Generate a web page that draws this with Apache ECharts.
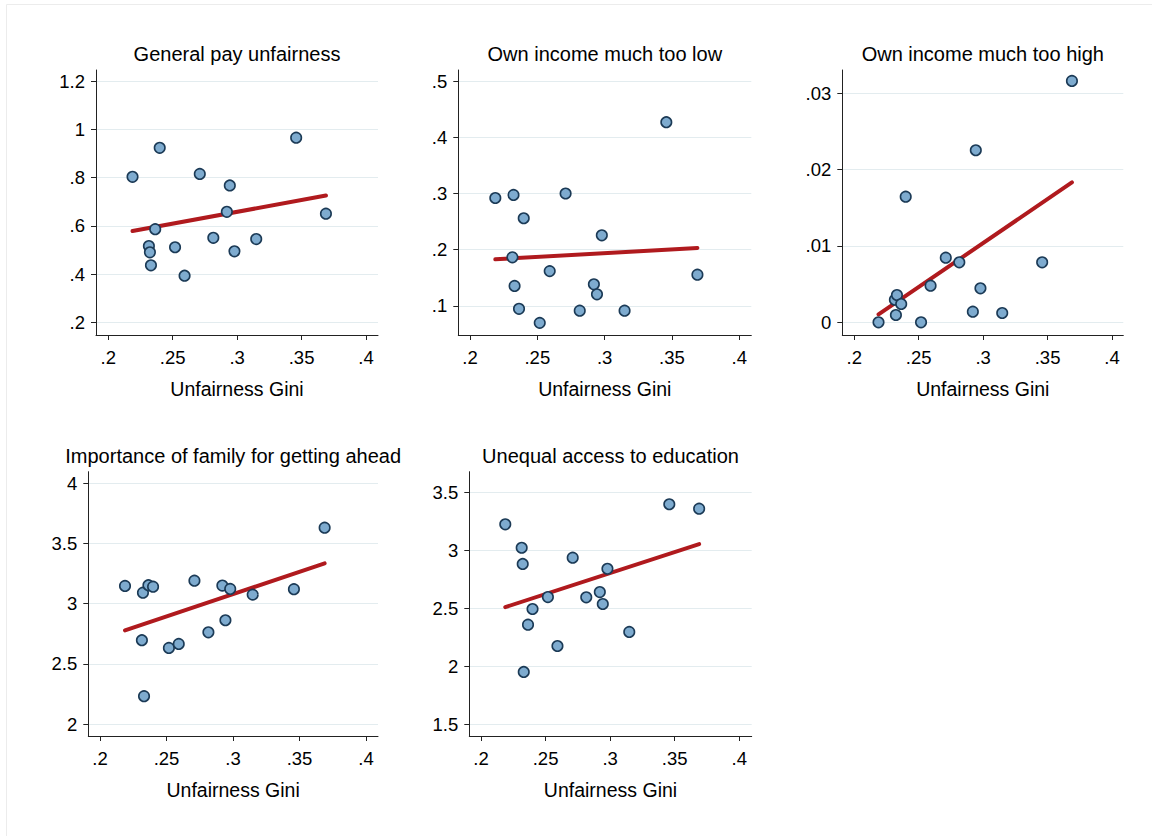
<!DOCTYPE html>
<html>
<head>
<meta charset="utf-8">
<script src="https://cdn.jsdelivr.net/npm/echarts@6.0.0/dist/echarts.min.js"></script>
<style>
html,body{margin:0;padding:0;background:#fff;}
#chart{width:1152px;height:836px;}
</style>
</head>
<body>
<div id="chart"></div>
<script>
// ---- data ----
const gini = [0.2188, 0.2315, 0.2323, 0.2331, 0.2364, 0.2399, 0.2518, 0.2592, 0.2710, 0.2815, 0.2920, 0.2943, 0.2979, 0.3148, 0.3458, 0.3689];
const payUnfairness = [0.803, 0.516, 0.490, 0.436, 0.586, 0.923, 0.511, 0.393, 0.815, 0.550, 0.658, 0.767, 0.494, 0.545, 0.965, 0.650];
const incomeTooLow = [0.292, 0.1865, 0.2975, 0.1356, 0.095, 0.256, 0.070, 0.162, 0.300, 0.0916, 0.1386, 0.1208, 0.2256, 0.0916, 0.4267, 0.1556];
const incomeTooHigh = [0, 0.00296, 0.00096, 0.00358, 0.0024, 0.01646, 0, 0.0048, 0.00847, 0.00786, 0.00139, 0.02254, 0.00446, 0.00122, 0.00786, 0.03162];
const familyImportance = [3.147, 2.696, 3.091, 2.231, 3.153, 3.141, 2.632, 2.665, 3.191, 2.762, 3.150, 2.862, 3.122, 3.075, 3.120, 3.631];
const eduAccess = [3.224, 3.022, 2.882, 1.951, 2.359, 2.494, 2.597, 2.175, 2.936, 2.595, 2.640, 2.537, 2.841, 2.296, 3.397, 3.359];

const panelTitles = ['General pay unfairness', 'Own income much too low', 'Own income much too high', 'Importance of family for getting ahead', 'Unequal access to education'];
const xAxisTitle = 'Unfairness Gini';
const giniTicks = [0.2, 0.25, 0.3, 0.35, 0.4];
const payTicks = [0.2, 0.4, 0.6, 0.8, 1, 1.2];
const lowTicks = [0.1, 0.2, 0.3, 0.4, 0.5];
const highTicks = [0, 0.01, 0.02, 0.03];
const familyTicks = [2, 2.5, 3, 3.5, 4];
const eduTicks = [1.5, 2, 2.5, 3, 3.5];

// ---- layout ----
const panels = [
  {y: payUnfairness,    yTicks: payTicks,    grid: {left: 96,    top: 70,    width: 282,   height: 265},   xr: [0.19045, 0.40931], yr: [0.14737, 1.2456]},
  {y: incomeTooLow,     yTicks: lowTicks,    grid: {left: 458.3, top: 70,    width: 293,   height: 265},   xr: [0.19131, 0.40891], yr: [0.04844, 0.51956]},
  {y: incomeTooHigh,    yTicks: highTicks,   grid: {left: 842.3, top: 70,    width: 281,   height: 265},   xr: [0.19069, 0.40877], yr: [-0.00166, 0.03305]},
  {y: familyImportance, yTicks: familyTicks, grid: {left: 88.3,  top: 471.7, width: 289.7, height: 264.3}, xr: [0.1912, 0.40902],  yr: [1.9003, 4.0964]},
  {y: eduAccess,        yTicks: eduTicks,    grid: {left: 469.3, top: 471.7, width: 282.4, height: 264.3}, xr: [0.19094, 0.4096],  yr: [1.3991, 3.6776]}
];

const FONT = '"Liberation Sans", Arial, Helvetica, sans-serif';
const TXT = '#000000';
const AX = '#222222';
const fmt = v => String(+v.toFixed(4)).replace(/^0\./, '.').replace(/^-0\./, '-.');

function fit(xs, ys) {
  const n = xs.length;
  const mx = xs.reduce((a, b) => a + b, 0) / n;
  const my = ys.reduce((a, b) => a + b, 0) / n;
  let sxy = 0, sxx = 0;
  for (let i = 0; i < n; i++) { sxy += (xs[i] - mx) * (ys[i] - my); sxx += (xs[i] - mx) * (xs[i] - mx); }
  const b = sxy / sxx, a = my - b * mx;
  const x0 = Math.min(...xs), x1 = Math.max(...xs);
  return [[x0, a + b * x0], [x1, a + b * x1]];
}

const grids = [], xAxes = [], yAxes = [], series = [], graphics = [];
graphics.push({type: 'rect', shape: {x: 6.5, y: 4.5, width: 1300, height: 1000}, style: {fill: 'none', stroke: '#ececec', lineWidth: 1}, silent: true, z: -10});

panels.forEach((p, i) => {
  grids.push(Object.assign({outerBoundsMode: 'none', containLabel: false}, p.grid));
  xAxes.push({
    gridIndex: i, type: 'value', min: p.xr[0], max: p.xr[1],
    axisLine: {show: true, onZero: false, lineStyle: {color: AX, width: 1}},
    axisTick: {show: true, length: 5, customValues: giniTicks, lineStyle: {color: AX, width: 1}},
    axisLabel: {show: true, customValues: giniTicks, formatter: fmt, fontSize: 18.5, color: TXT, fontFamily: FONT, margin: 13},
    splitLine: {show: false},
    name: xAxisTitle, nameLocation: 'middle', nameGap: 44,
    nameTextStyle: {fontSize: 19.5, color: TXT, fontFamily: FONT}
  });
  yAxes.push({
    gridIndex: i, type: 'value', min: p.yr[0], max: p.yr[1],
    axisLine: {show: true, onZero: false, lineStyle: {color: AX, width: 1}},
    axisTick: {show: true, length: 5, customValues: p.yTicks, lineStyle: {color: AX, width: 1}},
    axisLabel: {show: true, customValues: p.yTicks, formatter: fmt, fontSize: 18.5, color: TXT, fontFamily: FONT, margin: 11},
    splitLine: {show: true, lineStyle: {color: '#e3ecef', width: 1}}
  });
  series.push({
    type: 'line', xAxisIndex: i, yAxisIndex: i, data: fit(gini, p.y),
    symbol: 'none', silent: true, z: 2,
    lineStyle: {color: '#b01a1e', width: 4, cap: 'round'}
  });
  series.push({
    type: 'scatter', xAxisIndex: i, yAxisIndex: i,
    data: gini.map((x, j) => [x, p.y[j]]),
    symbol: 'circle', symbolSize: 10.5, z: 3,
    itemStyle: {color: '#7eabcf', borderColor: '#1b3a56', borderWidth: 1.6, opacity: 1}
  });
  const cx = p.grid.left + p.grid.width / 2;
  const cy = p.grid.top - 16;
  graphics.push({
    type: 'text', x: cx, y: cy, silent: true,
    style: {text: panelTitles[i], textAlign: 'center', textVerticalAlign: 'middle', align: 'center', verticalAlign: 'middle',
            fontSize: 20, fontFamily: FONT, fill: TXT}
  });
});

const chart = echarts.init(document.getElementById('chart'), null, {renderer: 'svg', width: 1152, height: 836});
chart.setOption({
  animation: false,
  backgroundColor: '#ffffff',
  textStyle: {fontFamily: FONT},
  grid: grids, xAxis: xAxes, yAxis: yAxes, series: series, graphic: graphics
});
</script>
</body>
</html>
